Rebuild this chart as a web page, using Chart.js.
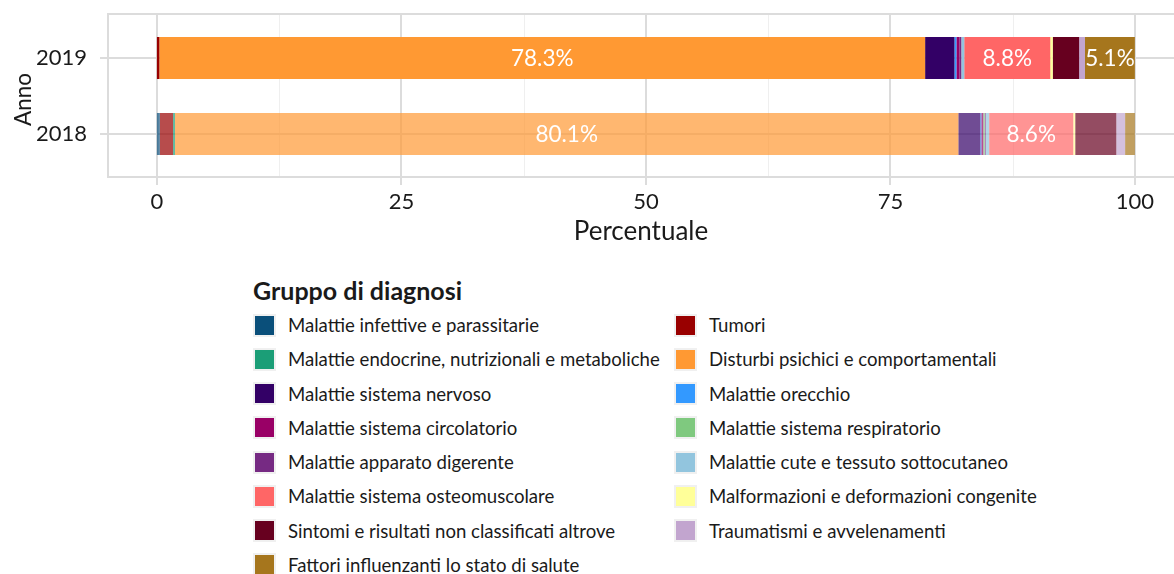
<!DOCTYPE html>
<html>
<head>
<meta charset="utf-8">
<script src="https://cdn.jsdelivr.net/npm/chart.js@4.4.1/dist/chart.umd.min.js"></script>
<style>
  html, body { margin: 0; padding: 0; background: #ffffff; }
  #wrap { position: relative; width: 1174px; height: 574px; overflow: hidden; font-family: Lato, "Noto Sans", sans-serif; color: #1a1a1a; }
  #chart { position: absolute; left: 0; top: 0; }
  .lg-title { position: absolute; font-weight: 700; font-size: 25px; line-height: 1.2; white-space: nowrap; }
  .lg-key { position: absolute; width: 19px; height: 19px; border: 2px solid #f0f0f0; }
  .lg-text { position: absolute; font-size: 18.6px; line-height: 24px; height: 24px; white-space: nowrap; }
</style>
</head>
<body>
<div id="wrap">
  <canvas id="chart" width="1174" height="250"></canvas>
  <div id="legend"></div>
</div>
<script>
// ---- data ----
const years = ['2019', '2018'];
const groups = [
  'Malattie infettive e parassitarie',
  'Tumori',
  'Malattie endocrine, nutrizionali e metaboliche',
  'Disturbi psichici e comportamentali',
  'Malattie sistema nervoso',
  'Malattie orecchio',
  'Malattie sistema circolatorio',
  'Malattie sistema respiratorio',
  'Malattie apparato digerente',
  'Malattie cute e tessuto sottocutaneo',
  'Malattie sistema osteomuscolare',
  'Malformazioni e deformazioni congenite',
  'Sintomi e risultati non classificati altrove',
  'Traumatismi e avvelenamenti',
  'Fattori influenzanti lo stato di salute'
];
const groupColors = [
  '#0a4f7a', '#990000', '#1b9e77', '#ff9933', '#330066',
  '#3399ff', '#990066', '#7fc97f', '#762a83', '#92c5de',
  '#ff6666', '#ffff99', '#67001f', '#c2a5cf', '#a6761d'
];
const values2019 = [0, 0.25, 0, 78.3, 3.0, 0.2, 0.3, 0, 0.2, 0.3, 8.8, 0.25, 2.7, 0.6, 5.1];
const values2018 = [0.3, 1.35, 0.2, 80.1, 2.25, 0.1, 0.2, 0.15, 0.1, 0.35, 8.6, 0.2, 4.2, 0.9, 1.0];
const xTicks = [0, 25, 50, 75, 100];
const xMinor = [12.5, 37.5, 62.5, 87.5];
const yearAlpha = [1, 0.7];
const labelThreshold = 5;
const yTitle = 'Anno';
const xTitle = 'Percentuale';

// ---- helpers ----
function rgba(hex, a) {
  const n = parseInt(hex.slice(1), 16);
  return 'rgba(' + ((n >> 16) & 255) + ',' + ((n >> 8) & 255) + ',' + (n & 255) + ',' + a + ')';
}
const FONT = 'Lato, "Noto Sans", sans-serif';
const TXT = '#1a1a1a';

const gridPlugin = {
  id: 'ggGrid',
  beforeDatasetsDraw(chart) {
    const { ctx, chartArea: a, scales: { x, y } } = chart;
    const top = a.top - 6, bottom = a.bottom + 5;
    ctx.save();
    ctx.strokeStyle = '#efefef';
    ctx.lineWidth = 1;
    xMinor.forEach(v => {
      const px = Math.round(x.getPixelForValue(v)) + 0.5;
      ctx.beginPath(); ctx.moveTo(px, top); ctx.lineTo(px, bottom); ctx.stroke();
    });
    ctx.strokeStyle = '#dcdcdc';
    ctx.lineWidth = 2;
    xTicks.forEach(v => {
      const px = Math.round(x.getPixelForValue(v));
      ctx.beginPath(); ctx.moveTo(px, top); ctx.lineTo(px, bottom + 8); ctx.stroke();
    });
    years.forEach((yr, i) => {
      const py = Math.round(y.getPixelForValue(i));
      ctx.beginPath(); ctx.moveTo(a.left - 8, py); ctx.lineTo(a.right, py); ctx.stroke();
    });
    // panel border (left, top, bottom)
    ctx.beginPath();
    ctx.moveTo(a.right, top); ctx.lineTo(a.left, top); ctx.lineTo(a.left, bottom); ctx.lineTo(a.right, bottom);
    ctx.stroke();
    ctx.restore();
  },
  afterDatasetsDraw(chart) {
    const { ctx, chartArea: a } = chart;
    ctx.save();
    ctx.fillStyle = '#ffffff';
    ctx.font = '22.5px ' + FONT;
    ctx.textAlign = 'center';
    ctx.textBaseline = 'middle';
    chart.data.datasets.forEach((ds, di) => {
      const meta = chart.getDatasetMeta(di);
      ds.data.forEach((v, i) => {
        if (v >= labelThreshold) {
          const el = meta.data[i];
          ctx.fillText(v.toFixed(1) + '%', (el.x + el.base) / 2, el.y + 1);
        }
      });
    });
    // y axis title, centred on the panel
    ctx.fillStyle = TXT;
    ctx.font = '22.5px ' + FONT;
    ctx.translate(23.3, (a.top + a.bottom) / 2 + 3.5);
    ctx.rotate(-Math.PI / 2);
    ctx.fillText(yTitle, 0, 0);
    ctx.restore();
  }
};

const datasets = groups.map((g, i) => ({
  label: g,
  data: [values2019[i], values2018[i]],
  backgroundColor: years.map((yr, k) => rgba(groupColors[i], yearAlpha[k])),
  borderWidth: 0,
  categoryPercentage: 1,
  barPercentage: 0.553
}));

new Chart(document.getElementById('chart'), {
  type: 'bar',
  data: { labels: years, datasets },
  plugins: [gridPlugin],
  options: {
    indexAxis: 'y',
    responsive: false,
    animation: false,
    layout: { padding: { top: 20, left: 0, right: 0, bottom: 0 } },
    plugins: { legend: { display: false }, tooltip: { enabled: false } },
    scales: {
      x: {
        stacked: true, min: -5, max: 104,
        afterBuildTicks(s) { s.ticks = xTicks.map(v => ({ value: v })); },
        afterFit(s) { s.height = 78; s.paddingLeft = 0; s.paddingRight = 0; },
        grid: { display: false, drawTicks: false },
        border: { display: false },
        ticks: { color: TXT, font: { family: FONT, size: 22 }, padding: 16.5, maxRotation: 0, autoSkip: false },
        title: { display: true, text: xTitle, color: TXT, font: { family: FONT, size: 26 }, padding: { top: 0, bottom: 3 } }
      },
      y: {
        stacked: true,
        afterFit(s) { s.width = 108; s.paddingTop = 0; s.paddingBottom = 0; },
        grid: { display: false, drawTicks: false },
        border: { display: false },
        ticks: { color: TXT, font: { family: FONT, size: 22 }, padding: 21 },
        title: { display: false }
      }
    }
  }
});

// ---- legend (HTML, two columns filled by row) ----
const legend = document.getElementById('legend');
const t = document.createElement('div');
t.className = 'lg-title';
t.textContent = 'Gruppo di diagnosi';
t.style.left = '253px'; t.style.top = '274.5px';
legend.appendChild(t);
const colKeyX = [253, 674], colTextX = [288, 709];
groups.forEach((g, i) => {
  const row = Math.floor(i / 2), col = i % 2;
  const cy = 325 + row * 34.25;
  const k = document.createElement('div');
  k.className = 'lg-key';
  k.style.left = colKeyX[col] + 'px';
  k.style.top = (cy - 11.5) + 'px';
  k.style.background = groupColors[i];
  legend.appendChild(k);
  const tx = document.createElement('div');
  tx.className = 'lg-text';
  tx.textContent = g;
  tx.style.left = colTextX[col] + 'px';
  tx.style.top = (cy - 12) + 'px';
  legend.appendChild(tx);
});
</script>
</body>
</html>
